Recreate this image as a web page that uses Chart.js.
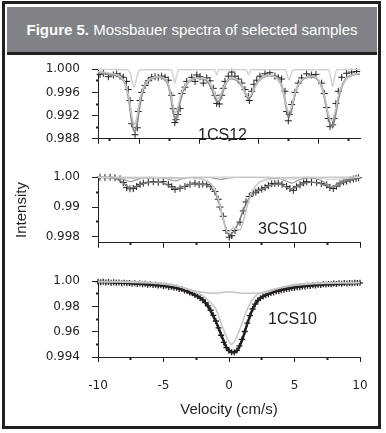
<!DOCTYPE html>
<html>
<head>
<meta charset="utf-8">
<script src="https://cdn.jsdelivr.net/npm/chart.js@4.4.1/dist/chart.umd.min.js"></script>
<style>
  html, body { margin: 0; padding: 0; background: #fff; }
  #wrap { position: relative; width: 386px; height: 433px; overflow: hidden; font-family: "Liberation Sans", Arial, sans-serif; }
  #frame { position: absolute; left: 2px; top: 1px; width: 379px; height: 428px; border: 3px solid #231f20; box-sizing: border-box; }
  #head { position: absolute; left: 7px; top: 7px; width: 370px; height: 45px; background: #808285; border-bottom: 3px solid #231f20;
          color: #fff; font-size: 15px; display: flex; align-items: center; justify-content: center; z-index: 2; }
  canvas { position: absolute; left: 0; }
  .tag { position: absolute; font-size: 16px; line-height: 16px; color: #231f20; }
</style>
</head>
<body>
<div id="wrap">
  <div id="frame"></div>
  <canvas id="c1" width="386" height="108" style="top:50px"></canvas>
  <canvas id="c2" width="386" height="104" style="top:158px"></canvas>
  <canvas id="c3" width="386" height="157" style="top:262px"></canvas>
  <div id="head"><b>Figure 5.</b>&nbsp;Mossbauer spectra of selected samples</div>
  <div class="tag" style="left:198px;top:127px">1CS12</div>
  <div class="tag" style="left:258px;top:221px">3CS10</div>
  <div class="tag" style="left:268px;top:311px">1CS10</div>
</div>
<script>
const BLACK = '#231f20';

// ---- 1CS12 (top panel) ----
const p1Obs = [[-10.83,0.9991],[-10.55,0.9993],[-10.13,0.9987],[-9.71,0.9990],[-9.43,0.9992],[-9.15,0.9988],[-8.88,0.9986],
  [-8.60,0.9979],[-8.46,0.9965],[-8.31,0.9946],[-8.17,0.9906],[-7.89,0.9887],[-7.70,0.9899],[-7.62,0.9927],[-7.47,0.9946],
  [-7.33,0.9960],[-7.05,0.9972],[-6.78,0.9980],[-6.49,0.9986],[-6.21,0.9987],[-5.94,0.9986],[-5.65,0.9988],[-5.37,0.9986],
  [-5.10,0.9981],[-4.81,0.9955],[-4.68,0.9932],[-4.55,0.9908],[-4.45,0.9913],[-4.30,0.9922],[-4.11,0.9932],[-3.97,0.9958],
  [-3.69,0.9969],[-3.55,0.9979],[-3.13,0.9986],[-2.85,0.9979],[-2.71,0.9990],[-2.43,0.9987],[-2.16,0.9976],[-1.87,0.9985],
  [-1.60,0.9980],[-1.32,0.9967],[-1.18,0.9955],[-1.03,0.9941],[-0.81,0.9940],[-0.61,0.9955],[-0.48,0.9967],[-0.34,0.9979],
  [-0.06,0.9988],[0.23,0.9995],[0.50,0.9988],[0.78,0.9983],[1.07,0.9976],[1.34,0.9965],[1.62,0.9953],[1.71,0.9946],
  [1.91,0.9962],[2.10,0.9974],[2.33,0.9981],[2.60,0.9988],[3.02,0.9992],[3.44,0.9994],[3.86,0.9988],[4.14,0.9985],
  [4.42,0.9983],[4.70,0.9962],[4.84,0.9927],[4.98,0.9911],[5.06,0.9922],[5.26,0.9939],[5.54,0.9960],[5.82,0.9976],
  [6.10,0.9985],[6.52,0.9992],[6.94,0.9990],[7.30,0.9991],[7.78,0.9976],[8.00,0.9958],[8.20,0.9934],[8.34,0.9915],
  [8.48,0.9901],[8.71,0.9904],[8.82,0.9915],[8.98,0.9941],[9.18,0.9962],[9.46,0.9986],[9.88,0.9993],[10.30,0.9995],[10.72,0.9996]];
const p1Fit = [[-11,0.9994],[-10,0.9991],[-9.3,0.9988],[-8.9,0.9982],[-8.6,0.9968],[-8.35,0.9940],[-8.15,0.9908],[-7.95,0.9893],
  [-7.75,0.9902],[-7.55,0.9930],[-7.3,0.9958],[-7.0,0.9974],[-6.5,0.9984],[-6.0,0.9986],[-5.5,0.9984],[-5.15,0.9975],
  [-4.9,0.9955],[-4.7,0.9928],[-4.5,0.9913],[-4.3,0.9922],[-4.1,0.9945],[-3.8,0.9966],[-3.3,0.9980],[-2.7,0.9985],
  [-2.1,0.9983],[-1.7,0.9976],[-1.4,0.9964],[-1.15,0.9950],[-0.95,0.9943],[-0.75,0.9947],[-0.5,0.9962],[-0.2,0.9978],
  [0.2,0.9984],[0.7,0.9980],[1.1,0.9970],[1.4,0.9957],[1.65,0.9949],[1.9,0.9956],[2.2,0.9972],[2.7,0.9984],[3.3,0.9989],
  [3.9,0.9987],[4.3,0.9978],[4.6,0.9958],[4.85,0.9930],[5.0,0.9918],[5.2,0.9926],[5.45,0.9950],[5.8,0.9972],[6.3,0.9984],
  [7.0,0.9987],[7.5,0.9981],[7.9,0.9963],[8.2,0.9932],[8.45,0.9908],[8.65,0.9902],[8.85,0.9912],[9.1,0.9940],[9.4,0.9966],
  [9.8,0.9983],[10.4,0.9990],[11,0.9992]];
const p1Broad = [[-11,0.9996],[-10,0.9993],[-9.2,0.9988],[-8.7,0.9975],[-8.4,0.9950],[-8.15,0.9918],[-7.95,0.9905],[-7.75,0.9915],
  [-7.5,0.9945],[-7.2,0.9968],[-6.8,0.9980],[-6.0,0.9987],[-5.3,0.9982],[-5.0,0.9968],[-4.75,0.9942],[-4.5,0.9925],
  [-4.25,0.9938],[-4.0,0.9958],[-3.6,0.9974],[-2.8,0.9985],[-2.0,0.9984],[-1.5,0.9972],[-1.2,0.9958],[-0.95,0.9949],
  [-0.7,0.9956],[-0.4,0.9971],[0.2,0.9985],[0.9,0.9978],[1.3,0.9962],[1.65,0.9952],[2.0,0.9962],[2.5,0.9980],[3.3,0.9989],
  [4.0,0.9985],[4.5,0.9965],[4.8,0.9938],[5.0,0.9926],[5.25,0.9936],[5.6,0.9963],[6.2,0.9983],[7.0,0.9988],[7.6,0.9978],
  [8.0,0.9955],[8.3,0.9925],[8.6,0.9912],[8.85,0.9922],[9.2,0.9955],[9.7,0.9980],[10.4,0.9990],[11,0.9993]];
const p1Narrow = [[-11,1.0],[-8.5,0.9999],[-8.25,0.9990],[-8.1,0.9976],[-7.97,0.9969],[-7.85,0.9976],[-7.7,0.9990],[-7.45,0.9999],
  [-4.9,0.9999],[-4.7,0.9990],[-4.55,0.9976],[-4.4,0.9990],[-4.2,0.9999],[-1.2,0.9999],[-1.03,0.9990],[-0.85,0.9999],
  [1.45,0.9999],[1.65,0.9990],[1.85,0.9999],[4.75,0.9999],[4.95,0.9986],[5.05,0.9982],[5.2,0.9990],[5.4,0.9999],
  [8.35,0.9999],[8.55,0.9985],[8.7,0.9970],[8.85,0.9985],[9.05,0.9999],[11,1.0]];
const p1YMajor = [0.988, 0.992, 0.996, 1.0];
const p1YMinor = [0.990, 0.994, 0.998];
const p1YLabels = ['0.988', '0.992', '0.996', '1.000'];
const p1XMajor = [-11, -7.5, -2.5, 2.5, 7.5];
const p1XMinor = [-10, -5, 0, 5, 10];

// ---- 3CS10 (middle panel) ----
const p2Obs = [[-9.85,1.0000],[-9.47,0.9999],[-9.08,1.0000],[-8.70,0.9998],[-8.32,0.9995],[-8.07,0.9982],[-7.81,0.9965],
  [-7.56,0.9961],[-7.31,0.9962],[-7.05,0.9969],[-6.79,0.9976],[-6.54,0.9980],[-6.16,0.9983],[-5.78,0.9985],[-5.40,0.9983],
  [-5.02,0.9985],[-4.63,0.9976],[-4.37,0.9968],[-4.12,0.9959],[-3.74,0.9963],[-3.36,0.9969],[-2.98,0.9976],[-2.60,0.9980],
  [-2.28,0.9975],[-2.00,0.9977],[-1.70,0.9976],[-1.40,0.9969],[-1.07,0.9952],[-0.82,0.9926],[-0.69,0.9900],[-0.44,0.9869],
  [-0.23,0.9821],[0.02,0.9799],[0.21,0.9804],[0.46,0.9821],[0.84,0.9849],[1.09,0.9887],[1.30,0.9917],[1.55,0.9935],
  [1.85,0.9948],[2.05,0.9950],[2.24,0.9956],[2.50,0.9960],[2.75,0.9965],[3.00,0.9972],[3.26,0.9978],[3.50,0.9979],
  [3.76,0.9980],[4.05,0.9976],[4.40,0.9969],[4.65,0.9962],[4.91,0.9956],[5.15,0.9968],[5.42,0.9974],[5.70,0.9981],
  [5.93,0.9985],[6.30,0.9983],[6.69,0.9982],[7.05,0.9979],[7.46,0.9974],[7.70,0.9966],[7.96,0.9962],[8.20,0.9970],
  [8.47,0.9978],[8.75,0.9984],[8.98,0.9987],[9.25,0.9991],[9.49,0.9994],[9.70,0.9996],[9.88,0.9998]];
const p2Fit = [[-10,0.9999],[-9,0.9997],[-8.4,0.9990],[-8,0.9978],[-7.6,0.9964],[-7.2,0.9966],[-6.7,0.9976],[-6,0.9983],
  [-5.2,0.9983],[-4.7,0.9974],[-4.2,0.9962],[-3.8,0.9964],[-3.2,0.9973],[-2.5,0.9977],[-1.8,0.9975],[-1.4,0.9966],
  [-1.1,0.9950],[-0.8,0.9920],[-0.55,0.9880],[-0.3,0.9837],[-0.1,0.9812],[0.1,0.9808],[0.3,0.9815],[0.5,0.9828],
  [0.8,0.9855],[1.1,0.9890],[1.4,0.9920],[1.8,0.9944],[2.3,0.9956],[2.8,0.9966],[3.3,0.9975],[3.8,0.9977],[4.3,0.9968],
  [4.7,0.9961],[5.1,0.9966],[5.6,0.9978],[6.3,0.9983],[7.0,0.9978],[7.5,0.9969],[7.9,0.9965],[8.4,0.9976],[9,0.9988],
  [9.5,0.9994],[10,0.9998]];
const p2Doublet = [[-10,1.0],[-3,0.9998],[-2,0.9993],[-1.5,0.9982],[-1.1,0.9960],[-0.8,0.9925],[-0.5,0.9870],[-0.25,0.9828],
  [-0.05,0.9815],[0.15,0.9822],[0.35,0.9833],[0.55,0.9826],[0.8,0.9822],[1.0,0.9838],[1.25,0.9880],[1.55,0.9928],
  [1.9,0.9963],[2.4,0.9985],[3.2,0.9995],[5,0.9999],[10,1.0]];
const p2Sextet = [[-10,1.0],[-8.3,0.9998],[-7.9,0.9990],[-7.5,0.9985],[-7.1,0.9991],[-6.5,0.9998],[-5,0.9998],[-4.5,0.9992],
  [-4.1,0.9988],[-3.7,0.9993],[-3,0.9999],[-1.5,0.9999],[-1,0.9995],[-0.6,0.9993],[-0.2,0.9996],[0.5,0.9999],[2,0.9999],
  [3.8,0.9997],[4.4,0.9986],[4.8,0.9980],[5.3,0.9990],[6,0.9998],[7,0.9990],[7.5,0.9976],[7.9,0.9968],[8.4,0.9984],
  [9.2,0.9998],[10,1.0]];
const p2Flat = [[-10,1.0],[-7.6,0.9996],[-6,1.0],[-4.2,0.9995],[-3,1.0],[3,1.0],[4.6,0.9994],[6,1.0],[7.8,0.9993],[10,1.0]];
const p2YMajor = [0.98, 0.99, 1.0];
const p2YMinor = [0.985, 0.995];
const p2YLabels = ['0.998', '0.99', '1.00'];
const xMajor = [-10, -5, 0, 5, 10];
const xMinor = [-7.5, -2.5, 2.5, 7.5];

// ---- 1CS10 (bottom panel) ----
const p3Obs = [[-10.0,0.9996],[-9.8,0.9991],[-9.6,0.9995],[-9.4,0.9990],[-9.2,0.9993],[-9.0,0.9988],[-8.8,0.9992],[-8.6,0.9987],
  [-8.4,0.9990],[-8.2,0.9984],[-8.0,0.9988],[-7.8,0.9983],[-7.6,0.9986],[-7.4,0.9980],[-7.2,0.9984],[-7.0,0.9978],
  [-6.8,0.9981],[-6.6,0.9975],[-6.4,0.9979],[-6.2,0.9972],[-6.0,0.9976],[-5.8,0.9969],[-5.6,0.9972],[-5.4,0.9965],
  [-5.2,0.9967],[-5.0,0.9960],[-4.8,0.9963],[-4.6,0.9955],[-4.4,0.9956],[-4.2,0.9948],[-4.0,0.9949],[-3.8,0.9939],
  [-3.6,0.9938],[-3.4,0.9926],[-3.2,0.9923],[-3.0,0.9910],[-2.8,0.9904],[-2.6,0.9890],[-2.4,0.9880],[-2.2,0.9866],
  [-2.0,0.9852],[-1.8,0.9830],[-1.6,0.9805],[-1.4,0.9770],[-1.2,0.9730],[-1.0,0.9685],[-0.8,0.9630],[-0.6,0.9572],
  [-0.4,0.9515],[-0.2,0.9475],[0.0,0.9450],[0.2,0.9438],[0.4,0.9436],[0.6,0.9452],[0.8,0.9488],[1.0,0.9540],[1.2,0.9602],
  [1.4,0.9668],[1.6,0.9728],[1.8,0.9780],[2.0,0.9818],[2.2,0.9848],[2.4,0.9866],[2.6,0.9878],[2.8,0.9890],[3.0,0.9897],
  [3.2,0.9906],[3.4,0.9911],[3.6,0.9919],[3.8,0.9922],[4.0,0.9929],[4.2,0.9932],[4.4,0.9938],[4.6,0.9940],[4.8,0.9946],
  [5.0,0.9947],[5.2,0.9952],[5.4,0.9953],[5.6,0.9958],[5.8,0.9958],[6.0,0.9963],[6.2,0.9962],[6.4,0.9967],[6.6,0.9966],
  [6.8,0.9971],[7.0,0.9970],[7.2,0.9975],[7.4,0.9973],[7.6,0.9978],[7.8,0.9976],[8.0,0.9981],[8.2,0.9978],[8.4,0.9983],
  [8.6,0.9980],[8.8,0.9985],[9.0,0.9982],[9.2,0.9986],[9.4,0.9983],[9.6,0.9988],[9.8,0.9985],[10.0,0.9987]];
const p3Fit = [[-10,0.9994],[-9,0.9991],[-8,0.9987],[-7,0.9981],[-6,0.9974],[-5,0.9963],[-4,0.9946],[-3.2,0.9920],[-2.6,0.9890],
  [-2.1,0.9862],[-1.7,0.9815],[-1.3,0.9745],[-0.9,0.9655],[-0.5,0.9550],[-0.15,0.9470],[0.15,0.9440],[0.4,0.9437],
  [0.7,0.9462],[1.05,0.9550],[1.45,0.9680],[1.85,0.9790],[2.3,0.9858],[2.9,0.9895],[3.5,0.9917],[4.5,0.9943],[5.5,0.9958],
  [6.5,0.9968],[7.5,0.9976],[8.5,0.9981],[9.3,0.9984],[10,0.9986]];
const p3Broad = [[-10,0.9998],[-7,0.9995],[-5,0.9985],[-4,0.9965],[-3,0.9935],[-2,0.9912],[-1,0.9905],[0,0.9917],[1,0.9905],
  [2,0.9905],[2.8,0.9910],[3.5,0.9935],[4.5,0.9965],[5.5,0.9980],[7,0.9988],[10,0.9990]];
const p3Singlet = [[-10,0.9995],[-6,0.9985],[-4,0.9962],[-3,0.9930],[-2,0.9885],[-1.5,0.9840],[-1,0.9780],[-0.5,0.9640],
  [0.2,0.9500],[0.9,0.9640],[1.4,0.9780],[2,0.9880],[3,0.9925],[4,0.9950],[6,0.9975],[10,0.9988]];
const p3YMajor = [0.94, 0.96, 0.98, 1.0];
const p3YMinor = [0.95, 0.97, 0.99];
const p3YLabels = ['0.994', '0.96', '0.98', '1.00'];
const p3XLabels = ['-10', '-5', '0', '5', '10'];

const pts = arr => arr.map(p => ({ x: p[0], y: p[1] }));

function curve(arr, color, width) {
  return { data: pts(arr), showLine: true, borderColor: color, borderWidth: width, pointRadius: 0,
           cubicInterpolationMode: 'monotone', clip: false };
}
function crosses(arr, r, w) {
  return { data: pts(arr), showLine: false, pointStyle: 'cross', pointRadius: r, borderColor: BLACK,
           backgroundColor: BLACK, borderWidth: w || 1, clip: false };
}

function scaleOpts(min, max, majors, minors, labels, isY, fitSize) {
  const tl = isY ? 6 : 5;
  const isMinor = c => c.tick && minors.includes(c.tick.value);
  return {
    type: 'linear',
    min: min,
    max: max,
    afterBuildTicks: s => {
      s.ticks = majors.concat(minors).sort((a, b) => a - b).map(v => ({ value: v }));
    },
    afterFit: s => {
      if (isY) s.width = fitSize; else s.height = fitSize;
    },
    border: { display: true, color: BLACK, width: 1 },
    grid: {
      drawOnChartArea: false,
      drawTicks: true,
      tickLength: tl,
      tickColor: BLACK,
      tickWidth: c => isMinor(c) ? 2 : 1,
      tickBorderDash: c => isMinor(c) ? (isY ? [0, tl - 2, 2, 50] : [2, 50]) : []
    },
    ticks: {
      display: !!labels,
      autoSkip: false,
      maxRotation: 0,
      color: BLACK,
      font: { family: 'DejaVu Sans', size: 12 },
      padding: isY ? 12 : 17,
      callback: v => {
        const i = majors.indexOf(v);
        return i >= 0 && labels ? labels[i] : '';
      }
    }
  };
}

function panel(id, datasets, x, y, pad) {
  return new Chart(document.getElementById(id), {
    type: 'scatter',
    data: { datasets: datasets },
    options: {
      responsive: false,
      animation: false,
      devicePixelRatio: 1,
      events: [],
      layout: { padding: pad },
      plugins: { legend: { display: false }, tooltip: { enabled: false } },
      scales: { x: x, y: y }
    }
  });
}

// top
panel('c1', [
  curve(p1Narrow, '#d4d4d4', 1.5),
  curve(p1Broad, '#c4c4c4', 1.5),
  curve(p1Fit, '#8a8a8a', 2),
  crosses(p1Obs, 3.5)
], scaleOpts(-11, 11, p1XMajor, p1XMinor, null, false, 6),
   scaleOpts(0.988, 1.0, p1YMajor, p1YMinor, p1YLabels, true, 98),
   { left: 0, right: 26, top: 15, bottom: 2 });

// middle
const y2 = scaleOpts(0.978, 1.0, p2YMajor, p2YMinor, p2YLabels, true, 98);
y2.title = { display: true, text: 'Intensity', color: BLACK, font: { family: 'Liberation Sans', size: 15 }, padding: { top: 13, bottom: 0 } };
panel('c2', [
  curve(p2Flat, '#cfcfcf', 1.2),
  curve(p2Sextet, '#9a9a9a', 1.2),
  curve(p2Doublet, '#c8c8c8', 1.5),
  curve(p2Fit, '#7a7a7a', 1.5),
  crosses(p2Obs, 3.5)
], scaleOpts(-10, 10, xMajor, xMinor, null, false, 6), y2,
   { left: 0, right: 26, top: 12, bottom: 2 });

// bottom
const x3 = scaleOpts(-10, 10, xMajor, xMinor, p3XLabels, false, 62);
x3.title = { display: true, text: 'Velocity (cm/s)', color: BLACK, font: { family: 'Liberation Sans', size: 15 }, padding: { top: 0, bottom: 0 } };
panel('c3', [
  curve(p3Broad, '#c4c4c4', 1.5),
  curve(p3Singlet, '#c4c4c4', 1.5),
  curve(p3Fit, BLACK, 2.5),
  crosses(p3Obs, 3, 1.3)
], x3, scaleOpts(0.94, 1.0, p3YMajor, p3YMinor, p3YLabels, true, 98),
   { left: 0, right: 26, top: 11, bottom: 0 });
</script>
</body>
</html>
